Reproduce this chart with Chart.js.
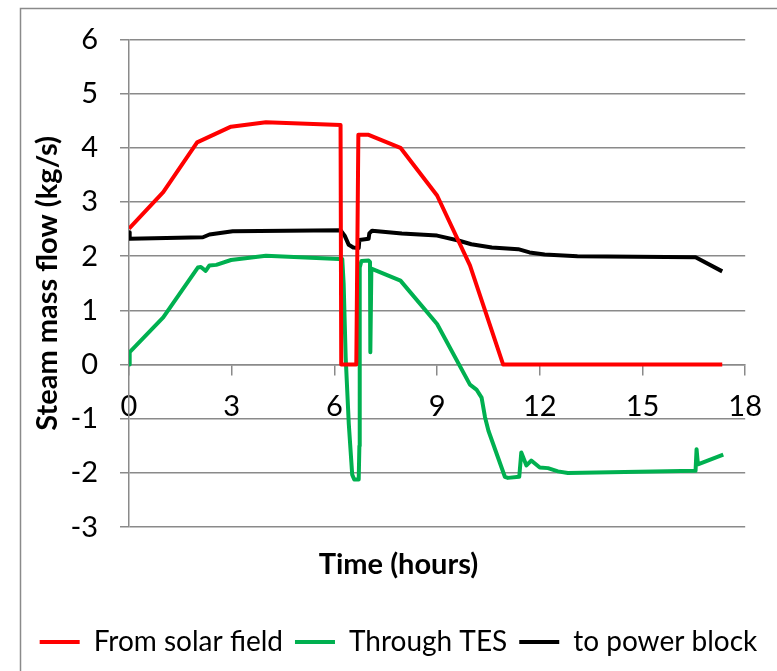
<!DOCTYPE html>
<html>
<head>
<meta charset="utf-8">
<title>Steam mass flow</title>
<script src="https://cdn.jsdelivr.net/npm/chart.js@4.4.1/dist/chart.umd.min.js"></script>
<style>
  html, body { margin: 0; padding: 0; background: #fff; }
  canvas { display: block; }
</style>
</head>
<body>
<canvas id="flow-chart" width="777" height="671"></canvas>
<script>
// values (hours, kg/s)
const solarHours = [0, 1.0, 1.99, 2.98, 4.0, 6.18, 6.2, 6.64, 6.7, 7.0, 7.93, 9.0, 9.96, 10.93, 17.33];
const solarFlow  = [2.51, 3.18, 4.10, 4.39, 4.47, 4.42, 0, 0, 4.24, 4.24, 4.0, 3.12, 1.83, 0, 0];

const tesHours = [0, 0.02, 1.0, 2.01, 2.1, 2.24, 2.35, 2.55, 2.98, 4.0, 6.13, 6.23, 6.27, 6.33, 6.42, 6.52, 6.58,
  6.71, 6.73, 6.74, 6.79, 7.0, 7.04, 7.05, 7.08, 7.93, 9.0, 9.96, 10.15, 10.3, 10.4, 10.5, 10.98, 11.07, 11.4,
  11.46, 11.61, 11.75, 12.0, 12.24, 12.53, 12.82, 16.55, 16.58, 16.62, 17.36];
const tesFlow = [0, 0.23, 0.87, 1.79, 1.80, 1.73, 1.83, 1.84, 1.93, 2.01, 1.95, 1.95, 1.5, 0.13, -1.09, -2.03, -2.12,
  -2.12, -1.5, 1.79, 1.91, 1.92, 1.89, 0.23, 1.77, 1.55, 0.75, -0.37, -0.46, -0.61, -0.97, -1.22, -2.07, -2.09, -2.07,
  -1.62, -1.86, -1.77, -1.90, -1.91, -1.97, -2.0, -1.96, -1.56, -1.84, -1.66];

const blockHours = [0, 0.02, 2.16, 2.35, 3.03, 6.18, 6.3, 6.42, 6.55, 6.71, 6.73, 7.0, 7.02, 7.1, 7.97, 9.0, 9.62,
  10.0, 10.6, 11.37, 11.7, 12.14, 13.1, 16.55, 17.33];
const blockFlow = [2.44, 2.32, 2.35, 2.40, 2.46, 2.48, 2.38, 2.21, 2.16, 2.15, 2.30, 2.32, 2.42, 2.47, 2.42, 2.38, 2.29,
  2.22, 2.16, 2.13, 2.07, 2.03, 2.0, 1.98, 1.72];

const seriesNames = ['From solar field', 'Through TES', 'to power block'];
const seriesColors = ['#ff0000', '#00b050', '#000000'];

const xTicks = [0, 3, 6, 9, 12, 15, 18];
const yTicks = [-3, -2, -1, 0, 1, 2, 3, 4, 5, 6];

const gridColor = '#8a8a8a';
const fontFamily = 'Lato, "Open Sans", sans-serif';

function toPoints(xs, ys) {
  return xs.map((x, i) => ({ x: x, y: ys[i] }));
}

function makeDataset(label, color, points) {
  return {
    label: label,
    data: points,
    borderColor: color,
    backgroundColor: color,
    borderWidth: 4,
    pointRadius: 0,
    tension: 0,
    borderJoinStyle: 'round',
    fill: false,
  };
}

// thin grey frame round the whole chart, as in the original
const framePlugin = {
  id: 'frame',
  beforeDraw(chart) {
    const ctx = chart.ctx;
    ctx.save();
    ctx.fillStyle = '#ffffff';
    ctx.fillRect(0, 0, chart.width, chart.height);
    ctx.strokeStyle = gridColor;
    ctx.lineWidth = 1.5;
    ctx.strokeRect(20.5, 8.5, 800, 700);
    ctx.restore();
  }
};

const ctx = document.getElementById('flow-chart').getContext('2d');

new Chart(ctx, {
  type: 'line',
  data: {
    datasets: [
      makeDataset(seriesNames[0], seriesColors[0], toPoints(solarHours, solarFlow)),
      makeDataset(seriesNames[1], seriesColors[1], toPoints(tesHours, tesFlow)),
      makeDataset(seriesNames[2], seriesColors[2], toPoints(blockHours, blockFlow)),
    ],
  },
  options: {
    responsive: false,
    animation: false,
    layout: {
      padding: { left: 20, right: 0, top: 38, bottom: 5 },
    },
    scales: {
      x: {
        type: 'linear',
        min: 0,
        max: 18,
        position: { y: 0 },
        afterBuildTicks(scale) {
          scale.ticks = xTicks.map(v => ({ value: v }));
        },
        ticks: {
          color: '#000',
          padding: 15,
          maxRotation: 0,
          font: { family: fontFamily, size: 29 },
        },
        grid: {
          drawOnChartArea: false,
          drawTicks: true,
          tickLength: 10,
          color: gridColor,
          lineWidth: 1.5,
        },
        border: { color: gridColor, width: 1.5 },
      },
      y: {
        min: -3,
        max: 6,
        afterBuildTicks(scale) {
          scale.ticks = yTicks.map(v => ({ value: v }));
        },
        afterFit(scale) {
          scale.width = 109;
        },
        ticks: {
          color: '#000',
          padding: 22,
          font: { family: fontFamily, size: 29 },
        },
        grid: {
          color: gridColor,
          lineWidth: 1.5,
          tickLength: 9,
        },
        border: { color: gridColor, width: 1.5 },
        title: {
          display: true,
          text: 'Steam mass flow (kg/s)',
          color: '#000',
          padding: { top: 10, bottom: 0 },
          font: { family: fontFamily, size: 29, weight: 'bold' },
        },
      },
      // empty axis on the right only to keep the plot narrower than the legend
      yRight: {
        type: 'linear',
        position: 'right',
        display: true,
        grid: { display: false },
        border: { display: false },
        ticks: { display: false },
        afterFit(scale) {
          scale.width = 30;
        },
      },
    },
    plugins: {
      title: {
        display: true,
        text: 'Time (hours)',
        position: 'bottom',
        weight: 500,
        color: '#000',
        padding: { top: 20, bottom: 34 },
        font: { family: fontFamily, size: 29, weight: 'bold' },
      },
      legend: {
        position: 'bottom',
        labels: {
          usePointStyle: true,
          pointStyle: 'line',
          pointStyleWidth: 40,
          padding: 12,
          color: '#000',
          font: { family: fontFamily, size: 28 },
        },
      },
      tooltip: { enabled: false },
    },
  },
  plugins: [framePlugin],
});
</script>
</body>
</html>
